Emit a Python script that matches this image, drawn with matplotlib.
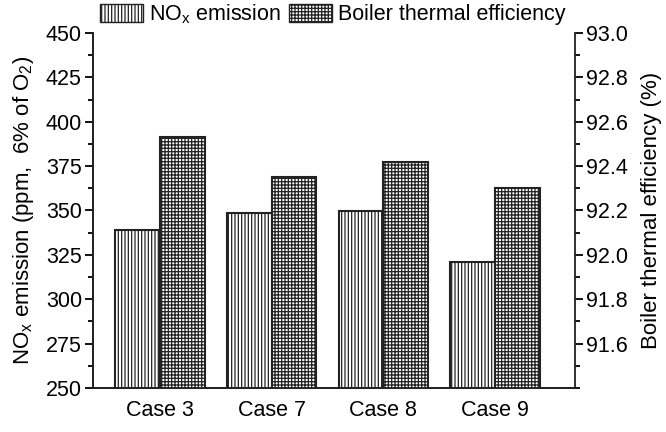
import numpy as np
import matplotlib
matplotlib.use("Agg")
import matplotlib.pyplot as plt
from matplotlib.patches import Patch
from matplotlib.ticker import MultipleLocator

plt.rcParams['font.family'] = ['Liberation Sans', 'DejaVu Sans']
plt.rcParams['mathtext.default'] = 'regular'
plt.rcParams['hatch.linewidth'] = 0.9
plt.rcParams['hatch.color'] = '#333333'

cases = ['Case 3', 'Case 7', 'Case 8', 'Case 9']
nox = [339.0, 348.8, 349.6, 321.2]          # ppm at 6% O2
efficiency = [92.53, 92.35, 92.42, 92.30]   # %

fs = 15.5

fig = plt.figure(figsize=(6.66, 4.32), dpi=100)
ax1 = fig.add_axes([0.1396, 0.1019, 0.7238, 0.8217])
ax2 = ax1.twinx()

x = np.arange(len(cases))
w = 0.4
ax1.bar(x - w / 2, nox, w, facecolor='white', edgecolor='#222222',
        hatch='|||||', linewidth=1.5, zorder=2)
ax2.bar(x + w / 2, efficiency, w, facecolor='white', edgecolor='#222222',
        hatch='+++++', linewidth=1.5, zorder=2)

ax1.set_ylim(250, 450)
ax2.set_ylim(91.4, 93.0)
ax1.set_xlim(-0.598, 3.714)

ax1.yaxis.set_major_locator(MultipleLocator(25))
ax1.yaxis.set_minor_locator(MultipleLocator(12.5))
ax2.yaxis.set_minor_locator(MultipleLocator(0.1))
eff_ticks = np.arange(91.6, 93.01, 0.2)
ax2.set_yticks(eff_ticks)
ax2.set_yticklabels([f'{v:.1f}' for v in eff_ticks])

ax1.set_xticks(x)
ax1.set_xticklabels(cases, fontsize=fs)
ax1.tick_params(axis='x', length=0, pad=9)
for ax in (ax1, ax2):
    ax.tick_params(axis='y', which='major', direction='out', length=6, width=1.3,
                   labelsize=fs, pad=2)
    ax.tick_params(axis='y', which='minor', direction='out', length=3.5, width=1.3)
    ax.spines['top'].set_visible(False)
    for s in ax.spines.values():
        s.set_linewidth(1.3)
        s.set_color('#222222')
ax1.spines['right'].set_visible(False)

ax1.set_ylabel(r'NO$_x$ emission (ppm,  6% of O$_2$)', fontsize=16, labelpad=7)
ax2.set_ylabel('Boiler thermal efficiency (%)', fontsize=16, labelpad=9)

handles = [
    Patch(facecolor='white', edgecolor='#222222', hatch='|||||', label=r'NO$_x$ emission'),
    Patch(facecolor='white', edgecolor='#222222', hatch='+++++', label='Boiler thermal efficiency'),
]
fig.legend(handles=handles, loc='center left', bbox_to_anchor=(0.15, 0.967),
           ncol=2, frameon=False, fontsize=fs, handlelength=2.0, handleheight=0.9,
           handletextpad=0.3, columnspacing=0.35, borderpad=0, borderaxespad=0)

fig.savefig('out.png', dpi=100)
